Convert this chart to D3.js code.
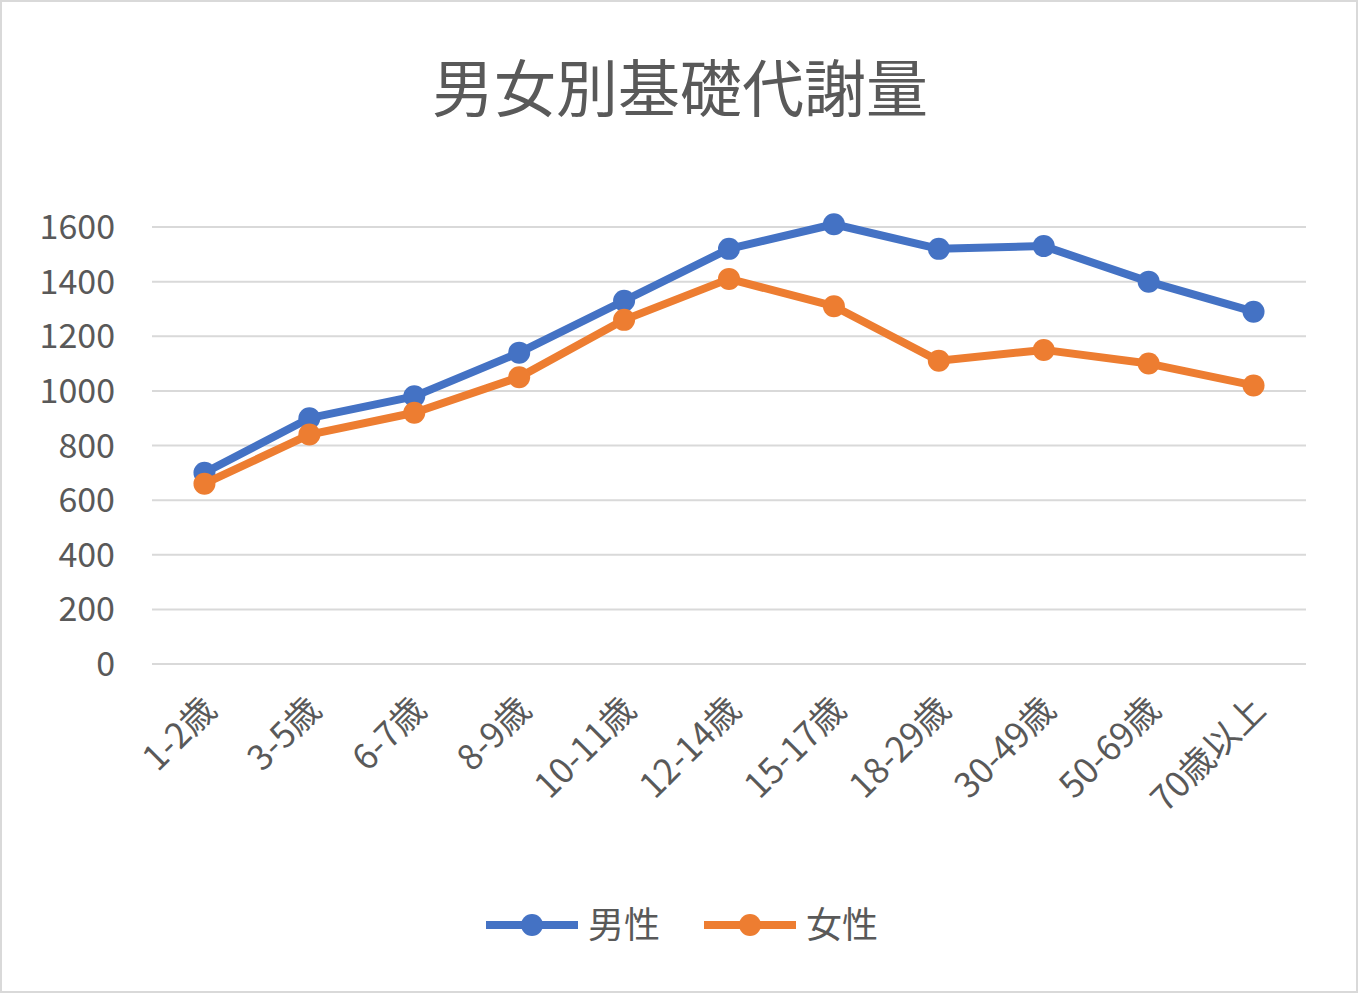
<!DOCTYPE html>
<html><head><meta charset="utf-8">
<script src="https://cdn.jsdelivr.net/npm/d3@7"></script>
<style>body{margin:0;background:#fff}</style>
</head><body>
<script>
const categories = ['1-2歳','3-5歳','6-7歳','8-9歳','10-11歳','12-14歳','15-17歳','18-29歳','30-49歳','50-69歳','70歳以上'];
const male = [700, 900, 980, 1140, 1330, 1520, 1610, 1520, 1530, 1400, 1290];
const female = [660, 840, 920, 1050, 1260, 1410, 1310, 1110, 1150, 1100, 1020];
const yTicks = [0, 200, 400, 600, 800, 1000, 1200, 1400, 1600];

const W = 1358, H = 993;
const font = '"Noto Sans CJK JP", "Noto Sans", sans-serif';
const svg = d3.select('body').append('svg').attr('width', W).attr('height', H);
svg.append('rect').attr('x', 1).attr('y', 1).attr('width', W - 2).attr('height', H - 2)
  .attr('fill', '#fff').attr('stroke', '#d9d9d9').attr('stroke-width', 2);

svg.append('text').attr('x', 680).attr('y', 112).attr('text-anchor', 'middle')
  .attr('font-family', font).attr('font-size', 62).attr('fill', '#595959').text('男女別基礎代謝量');

const x = d3.scaleBand().domain(categories).range([152, 1306]);
const y = d3.scaleLinear().domain([0, 1600]).range([664, 227]);

// grid
svg.append('g').selectAll('line').data(yTicks).join('line')
  .attr('x1', 152).attr('x2', 1306).attr('y1', d => y(d)).attr('y2', d => y(d))
  .attr('stroke', '#d9d9d9').attr('stroke-width', 2);
svg.append('g').selectAll('text').data(yTicks).join('text')
  .attr('x', 115).attr('y', d => y(d) + 12).attr('text-anchor', 'end')
  .attr('font-family', font).attr('font-size', 34).attr('fill', '#595959').text(d => d);

// x labels rotated
svg.append('g').selectAll('text').data(categories).join('text')
  .attr('transform', d => `translate(${x(d) + x.bandwidth() / 2 + 14},${712}) rotate(-45)`)
  .attr('text-anchor', 'end').attr('font-family', font).attr('font-size', 35).attr('fill', '#595959')
  .text(d => d);

const series = [{name: '男性', vals: male, color: '#4472c4'}, {name: '女性', vals: female, color: '#ed7d31'}];
const line = d3.line().x((d, i) => x(categories[i]) + x.bandwidth() / 2).y(d => y(d));
series.forEach(s => {
  svg.append('path').datum(s.vals).attr('d', line).attr('fill', 'none')
    .attr('stroke', s.color).attr('stroke-width', 8).attr('stroke-linejoin', 'round');
  svg.append('g').selectAll('circle').data(s.vals).join('circle')
    .attr('cx', (d, i) => x(categories[i]) + x.bandwidth() / 2).attr('cy', d => y(d))
    .attr('r', 11).attr('fill', s.color);
});

// legend
const lx = [486, 704];
series.forEach((s, i) => {
  const g = svg.append('g').attr('transform', `translate(${lx[i]},925)`);
  g.append('line').attr('x1', 0).attr('x2', 92).attr('stroke', s.color).attr('stroke-width', 8);
  g.append('circle').attr('cx', 46).attr('r', 11).attr('fill', s.color);
  g.append('text').attr('x', 102).attr('y', 13).attr('font-family', font).attr('font-size', 36)
    .attr('fill', '#595959').text(s.name);
});
</script>
</body></html>
